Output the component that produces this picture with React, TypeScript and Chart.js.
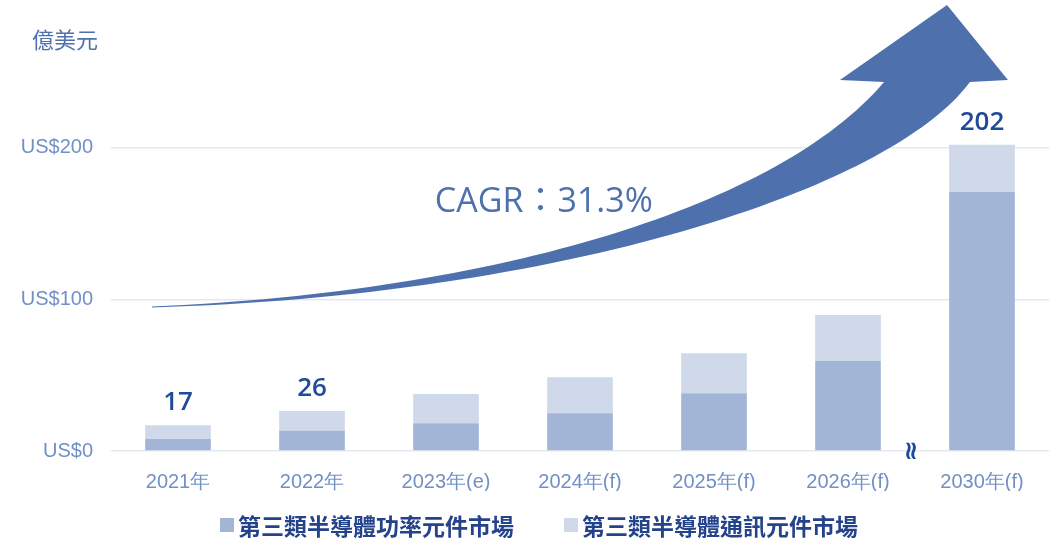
import React, { useEffect, useRef } from "react";
import { Chart, registerables } from "chart.js";

Chart.register(...registerables);

// ---- data ----
const categories = ["2021年", "2022年", "2023年(e)", "2024年(f)", "2025年(f)", "2026年(f)", "2030年(f)"];
const powerValues = [7.9, 13.4, 18.3, 24.9, 38.1, 59.4, 170.8];
const commValues = [9.1, 13.0, 19.3, 23.7, 26.3, 30.3, 31.2];
const totalLabels = ["17", "26", null, null, null, null, "202"];
const seriesNames = ["第三類半導體功率元件市場", "第三類半導體通訊元件市場"];
const yTickValues = [0, 100, 200];
const unitLabel = "億美元";
const cagrText = "CAGR：31.3%";

// growth arrow in data space: [category index, value]
const arrowUpper = [[-0.194, 95.3], [2.403, 104.9], [4.493, 162.3], [5.269, 243.4]];
const arrowHead = [[4.94, 244.7], [5.739, 294.2], [6.194, 244.7], [5.91, 243.4]];
const arrowLower = [[5.313, 172.2], [2.851, 102.2], [-0.194, 94.7]];
const cagrPos = [2.73, 164];
const breakPos = [5.46, 0];

const COLORS = {
  power: "#A3B5D6",
  comm: "#CFD9E9",
  arrow: "#4E71AE",
  tick: "#7190C6",
  grid: "#E4E9F1",
  label: "#1F4A98",
  legend: "#25438A",
};

const decorPlugin = {
  id: "decor",
  afterDatasetsDraw(chart: any) {
    const { ctx } = chart;
    const x = chart.scales.x;
    const y = chart.scales.y;
    const P = (p: number[]) => [x.getPixelForValue(p[0]), y.getPixelForValue(p[1])];

    ctx.save();
    // arrow
    ctx.fillStyle = COLORS.arrow;
    ctx.beginPath();
    const u0 = P(arrowUpper[0]);
    const u1 = P(arrowUpper[1]);
    const u2 = P(arrowUpper[2]);
    const u3 = P(arrowUpper[3]);
    ctx.moveTo(u0[0], u0[1]);
    ctx.bezierCurveTo(u1[0], u1[1], u2[0], u2[1], u3[0], u3[1]);
    arrowHead.forEach((p) => {
      const q = P(p);
      ctx.lineTo(q[0], q[1]);
    });
    const l1 = P(arrowLower[0]);
    const l2 = P(arrowLower[1]);
    const l3 = P(arrowLower[2]);
    ctx.bezierCurveTo(l1[0], l1[1], l2[0], l2[1], l3[0], l3[1]);
    ctx.closePath();
    ctx.fill();

    // CAGR text
    const c = P(cagrPos);
    ctx.font = '34px "Open Sans", "Noto Sans CJK TC", sans-serif';
    ctx.textAlign = "center";
    ctx.textBaseline = "middle";
    ctx.fillStyle = COLORS.arrow;
    ctx.fillText(cagrText, c[0], c[1]);

    // total labels
    ctx.font = '600 26px "Open Sans", sans-serif';
    ctx.fillStyle = COLORS.label;
    ctx.textBaseline = "alphabetic";
    totalLabels.forEach((t, i) => {
      if (!t) return;
      const px = x.getPixelForValue(i);
      const py = y.getPixelForValue(powerValues[i] + commValues[i]);
      ctx.fillText(t, px, py - 15);
    });

    // axis break mark
    const b = P(breakPos);
    ctx.translate(b[0], b[1]);
    ctx.rotate(Math.PI / 2);
    ctx.font = 'bold 26px "DejaVu Sans", sans-serif';
    ctx.fillStyle = COLORS.label;
    ctx.textAlign = "center";
    ctx.textBaseline = "middle";
    ctx.fillText("≈", 0, 0);
    ctx.restore();
  },
  afterDraw(chart: any) {
    const { ctx } = chart;
    const y = chart.scales.y;
    ctx.save();
    // unit label
    ctx.font = '22px "Noto Sans CJK TC", sans-serif';
    ctx.fillStyle = COLORS.arrow;
    ctx.textAlign = "left";
    ctx.textBaseline = "middle";
    ctx.fillText(unitLabel, y.left + 32, 40);

    // legend
    ctx.font = 'bold 23px "Noto Sans CJK TC", sans-serif';
    const box = 14;
    const gap = 4;
    const between = 50;
    const ds = chart.data.datasets;
    const widths = ds.map((d: any) => box + gap + ctx.measureText(d.label).width);
    const total = widths.reduce((a: number, b: number) => a + b, 0) + between * (ds.length - 1);
    let sx = chart.width / 2 - total / 2 + 7;
    const cy = 525;
    ds.forEach((d: any, i: number) => {
      ctx.fillStyle = d.backgroundColor;
      ctx.fillRect(sx, cy - box / 2, box, box);
      ctx.fillStyle = COLORS.legend;
      ctx.textBaseline = "middle";
      ctx.fillText(d.label, sx + box + gap, cy + 1);
      sx += widths[i] + between;
    });
    ctx.restore();
  },
};

export default function App() {
  const canvasRef = useRef<HTMLCanvasElement | null>(null);

  useEffect(() => {
    if (!canvasRef.current) return;
    const chart = new Chart(canvasRef.current, {
      type: "bar",
      data: {
        labels: categories,
        datasets: [
          {
            label: seriesNames[0],
            data: powerValues,
            backgroundColor: COLORS.power,
            barPercentage: 0.49,
            categoryPercentage: 1,
          },
          {
            label: seriesNames[1],
            data: commValues,
            backgroundColor: COLORS.comm,
            barPercentage: 0.49,
            categoryPercentage: 1,
          },
        ],
      },
      options: {
        animation: false,
        responsive: true,
        maintainAspectRatio: false,
        layout: { padding: { top: 72, right: 15, bottom: 48, left: 0 } },
        plugins: {
          legend: { display: false },
          tooltip: { enabled: false },
        },
        scales: {
          x: {
            stacked: true,
            grid: { display: false, drawTicks: false },
            border: { display: false },
            ticks: {
              padding: 19,
              color: COLORS.tick,
              font: { family: '"Liberation Sans", Arial, sans-serif', size: 20 },
              maxRotation: 0,
              autoSkip: false,
            },
            afterFit: (s: any) => {
              s.height = 40;
            },
          },
          y: {
            stacked: true,
            min: 0,
            max: 250,
            grid: { color: COLORS.grid, lineWidth: 1.5, drawTicks: false },
            border: { display: false },
            ticks: {
              padding: 18,
              color: COLORS.tick,
              font: { family: '"Liberation Sans", Arial, sans-serif', size: 20 },
              callback: (v: any) => "US$" + v,
            },
            afterBuildTicks: (s: any) => {
              s.ticks = yTickValues.map((v) => ({ value: v }));
            },
            afterFit: (s: any) => {
              s.width = 111;
            },
          },
        },
      },
      plugins: [decorPlugin],
    });
    return () => chart.destroy();
  }, []);

  return (
    <div style={{ position: "fixed", left: 0, top: 0, width: 1064, height: 539, background: "#fff" }}>
      <canvas ref={canvasRef} />
    </div>
  );
}
